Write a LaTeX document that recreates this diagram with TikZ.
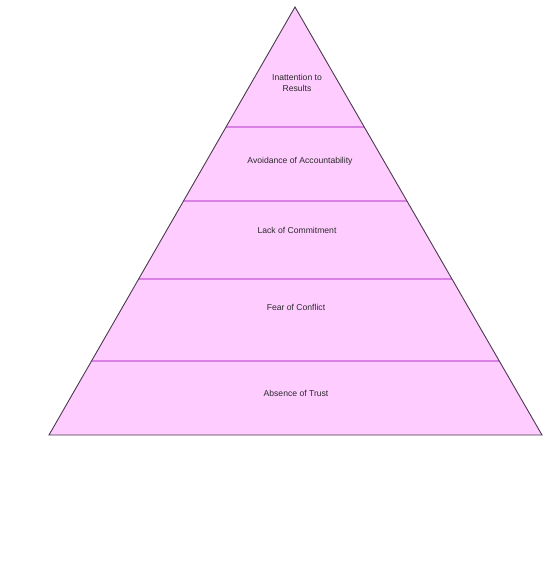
\documentclass[tikz,border=0pt]{standalone}
\usepackage{fontspec}
\setmainfont{Liberation Sans}
\usetikzlibrary{calc}
\definecolor{pfill}{HTML}{FFCCFF}
\definecolor{pline}{HTML}{D880E4}
\definecolor{pedge}{HTML}{4A3A4E}
\definecolor{ptext}{HTML}{2A2A2A}
\begin{document}
\begin{tikzpicture}[x=1pt,y=-1pt,
  lbl/.style={text=ptext,font=\fontsize{8.6}{10.5}\selectfont,align=center,inner sep=0pt},
  divider/.style={draw=pline,line width=1.1pt},
  edge/.style={draw=pedge,line width=0.9pt,line join=miter}]
\useasboundingbox (0,0) rectangle (547,582);
\coordinate (apex) at (295,7);
\coordinate (bl) at (49,435);
\coordinate (br) at (542,435);
\fill[pfill] (apex) -- (bl) -- (br) -- cycle;
% dividers
\foreach \y/\n in {127/a,201/b,279/c,361/d}{
  \coordinate (L\n) at ($(apex)!{(\y-7)/428}!(bl)$);
  \coordinate (R\n) at ($(apex)!{(\y-7)/428}!(br)$);
  \draw[divider] (L\n) -- (R\n);
}
\draw[edge] (apex) -- (bl) -- (br) -- cycle;
\node[lbl] (t1) at (297,83) {Inattention to\\Results};
\node[lbl] (t2) at (300,161) {Avoidance of Accountability};
\node[lbl] (t3) at (297,230) {Lack of Commitment};
\node[lbl] (t4) at (296,307) {Fear of Conflict};
\node[lbl] (t5) at (296,393) {Absence of Trust};
\end{tikzpicture}
\end{document}
